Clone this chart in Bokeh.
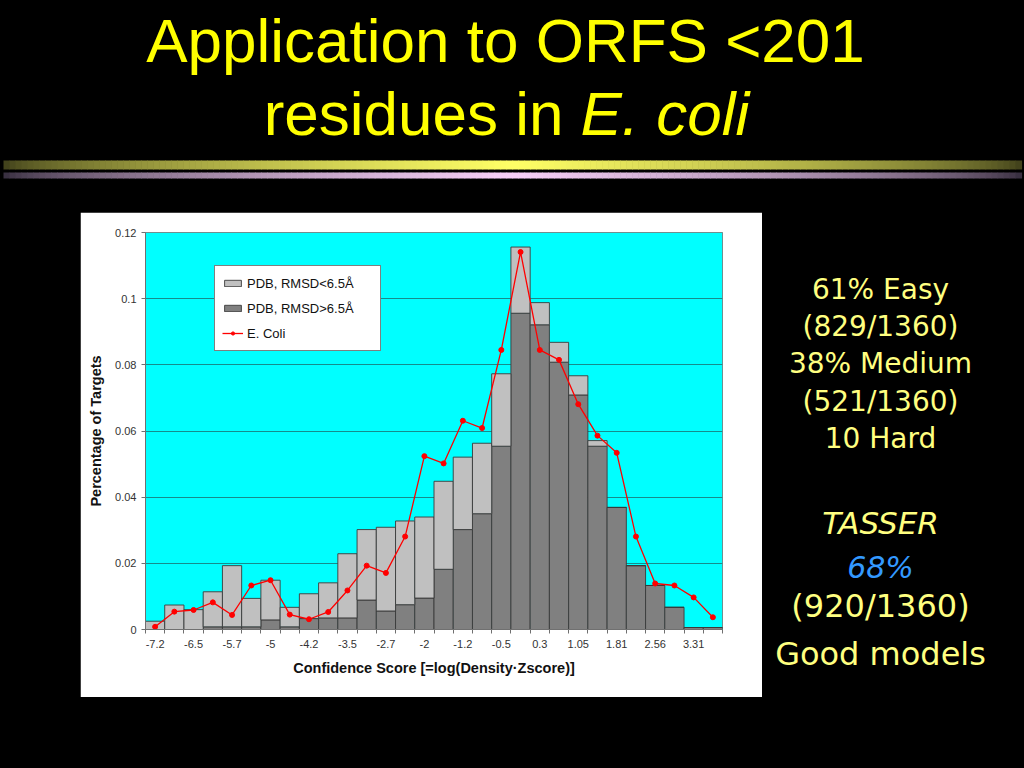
from bokeh.plotting import figure
from bokeh.layouts import column, row
from bokeh.models import (ColumnDataSource, FixedTicker, CustomJSTickFormatter,
                          Legend, LegendItem, Range1d, Label)
from bokeh.core.properties import value
from bokeh.embed import file_html
from bokeh.resources import INLINE

# ---------------- data ----------------
bin_labels = ["-7.2", "-6.85", "-6.5", "-6.1", "-5.7", "-5.35", "-5", "-4.6", "-4.2", "-3.85",
              "-3.5", "-3.1", "-2.7", "-2.35", "-2", "-1.6", "-1.2", "-0.85", "-0.5", "-0.1",
              "0.3", "0.68", "1.05", "1.43", "1.81", "2.19", "2.56", "2.94", "3.31", "3.69"]
# stacked segments: dark (RMSD>6.5A) at bottom, light (RMSD<6.5A) on top
pdb_rmsd_gt = [0.0, 0.0, 0.0, 0.0008, 0.0008, 0.0008, 0.0029, 0.0008, 0.0033, 0.0035,
               0.0035, 0.0089, 0.0056, 0.0075, 0.0095, 0.0182, 0.0302, 0.0350, 0.0554, 0.0956,
               0.0921, 0.0808, 0.0709, 0.0554, 0.0369, 0.0193, 0.0133, 0.0067, 0.0006, 0.0006]
pdb_rmsd_lt = [0.0025, 0.0074, 0.0060, 0.0106, 0.0185, 0.0086, 0.0120, 0.0059, 0.0075, 0.0106,
               0.0194, 0.0213, 0.0253, 0.0253, 0.0245, 0.0266, 0.0219, 0.0213, 0.0219, 0.0200,
               0.0067, 0.0060, 0.0058, 0.0017, 0.0, 0.0, 0.0, 0.0, 0.0, 0.0]
e_coli = [0.0008, 0.0054, 0.0059, 0.0082, 0.0044, 0.0133, 0.0149, 0.0045, 0.0031, 0.0053,
          0.0118, 0.0193, 0.0171, 0.0281, 0.0524, 0.0502, 0.0631, 0.0609, 0.0845, 0.1141,
          0.0845, 0.0815, 0.0681, 0.0586, 0.0534, 0.0281, 0.0139, 0.0133, 0.0097, 0.0037]
y_ticks = [0, 0.02, 0.04, 0.06, 0.08, 0.1, 0.12]

title_line1 = "Application to ORFS <201"
title_line2a = "residues in"
title_line2b = "E. coli"
stats_lines = ["61% Easy", "(829/1360)", "38% Medium", "(521/1360)", "10 Hard"]
tasser_lines = ["TASSER", "68%", "(920/1360)", "Good models"]

FONT = "Liberation Sans"
SIDE_FONT = "DejaVu Sans"
BLACK = "#000000"
BG = {"background-color": BLACK}
BASE_SHIFT = 0.355   # renderer puts the alphabetic baseline ~0.355em below y


def blank(w, h, xr, yr, **kw):
    f = figure(width=w, height=h, x_range=xr, y_range=yr, output_backend="svg",
               toolbar_location=None, x_axis_location=None, y_axis_location=None,
               background_fill_color=BLACK, border_fill_color=BLACK,
               outline_line_color=None, styles=BG, **kw)
    f.grid.visible = False
    return f


# ---------------- top: title + gradient rules ----------------
top = blank(1024, 212, Range1d(0, 1024), Range1d(212, 0), min_border=0)
TS = 62
top.text(x=[505], y=[62 - BASE_SHIFT * TS], text=[title_line1], text_font=value(FONT),
         text_font_size=f"{TS}px", text_color="#FFFF00", text_align="center",
         text_baseline="alphabetic")
top.text(x=[563], y=[135 - BASE_SHIFT * TS], text=[title_line2a], text_font=value(FONT),
         text_font_size=f"{TS}px", text_color="#FFFF00", text_align="right",
         text_baseline="alphabetic")
top.text(x=[580], y=[135 - BASE_SHIFT * TS], text=[title_line2b], text_font=value(FONT),
         text_font_size=f"{TS}px", text_font_style="italic", text_color="#FFFF00",
         text_align="left", text_baseline="alphabetic")


def mix(c0, c1, t):
    return "#%02x%02x%02x" % tuple(int(round(a + (b - a) * t)) for a, b in zip(c0, c1))


nseg = 170
gx0, gx1 = 3, 1021
lefts, rights, ycols, pcols = [], [], [], []
for i in range(nseg):
    a = gx0 + (gx1 - gx0) * i / nseg
    b = gx0 + (gx1 - gx0) * (i + 1) / nseg
    u = (i + 0.5) / nseg
    t = (1 - abs(2 * u - 1)) ** 0.6
    lefts.append(a)
    rights.append(b + 0.6)
    ycols.append(mix((58, 58, 24), (255, 255, 102), t))
    pcols.append(mix((48, 40, 56), (248, 208, 248), t))
top.quad(left=lefts, right=rights, top=[160] * nseg, bottom=[169] * nseg,
         fill_color=ycols, line_color=None)
top.quad(left=lefts, right=rights, top=[172] * nseg, bottom=[178] * nseg,
         fill_color=pcols, line_color=None)

# ---------------- chart ----------------
xs = [i + 0.5 for i in range(len(bin_labels))]
src = ColumnDataSource(dict(x=xs, gt=pdb_rmsd_gt, lt=pdb_rmsd_lt, ecoli=e_coli))

chart = figure(width=682, height=485, x_range=Range1d(0, len(bin_labels)),
               y_range=Range1d(0, 0.12), output_backend="svg", toolbar_location=None,
               min_border_left=65, min_border_right=40, min_border_top=20,
               min_border_bottom=68, background_fill_color="#00FFFF",
               border_fill_color="#FFFFFF", outline_line_color="#6f8f8f")

bars = chart.vbar_stack(["gt", "lt"], x="x", width=1, source=src,
                        fill_color=["#808080", "#C0C0C0"], line_color="#3a3a3a",
                        line_width=0.9)
ln = chart.line("x", "ecoli", source=src, line_color="#FF0000", line_width=1.3)
sc = chart.scatter("x", "ecoli", source=src, size=5, fill_color="#FF0000",
                   line_color="#FF0000")

chart.xgrid.visible = False
chart.ygrid.grid_line_color = "#168c8c"
chart.ygrid.grid_line_width = 1

xa = chart.xaxis[0]
xa.ticker = FixedTicker(ticks=[xs[i] for i in range(0, len(xs), 2)],
                        minor_ticks=list(range(len(xs) + 1)))
xa.major_label_overrides = {xs[i]: bin_labels[i] for i in range(0, len(xs), 2)}
xa.major_tick_line_color = None
xa.major_tick_out = 4
xa.major_tick_in = 0
xa.minor_tick_out = 4
xa.minor_tick_in = 0
xa.minor_tick_line_color = "#707070"
xa.axis_line_color = "#707070"
xa.major_label_standoff = 6
xa.axis_label = "Confidence Score [=log(Density·Zscore)]"
xa.axis_label_standoff = 9

ya = chart.yaxis[0]
ya.ticker = FixedTicker(ticks=y_ticks)
ya.formatter = CustomJSTickFormatter(code="return (Math.round(tick*100)/100).toString();")
ya.major_tick_out = 4
ya.major_tick_in = 0
ya.major_tick_line_color = "#707070"
ya.axis_line_color = "#707070"
ya.major_label_standoff = 5
ya.axis_label = "Percentage of Targets"
ya.axis_label_standoff = 8

for ax in (xa, ya):
    ax.major_label_text_font = FONT
    ax.major_label_text_font_size = "11px"
    ax.major_label_text_color = "#333333"
    ax.axis_label_text_font = FONT
    ax.axis_label_text_font_size = "14.5px"
    ax.axis_label_text_font_style = "bold"
    ax.axis_label_text_color = "#111111"

legend = Legend(items=[LegendItem(label="PDB, RMSD<6.5Å", renderers=[bars[1]]),
                       LegendItem(label="PDB, RMSD>6.5Å", renderers=[bars[0]]),
                       LegendItem(label="E. Coli", renderers=[ln, sc])],
                location=(69, 278))
legend.label_text_font = FONT
legend.label_text_font_size = "13px"
legend.label_text_color = "#111111"
legend.border_line_color = "#000000"
legend.border_line_width = 1
legend.background_fill_color = "#FFFFFF"
legend.background_fill_alpha = 1
legend.padding = 7
legend.spacing = 5
legend.margin = 0
legend.glyph_width = 21
legend.glyph_height = 8
legend.label_height = 20
legend.label_standoff = 4
legend.label_width = 126
chart.add_layout(legend)

# ---------------- side figures ----------------
left = blank(80, 485, Range1d(0, 80), Range1d(629, 232),
             min_border_top=20, min_border_bottom=68, min_border_left=0, min_border_right=0)
bottom_left = blank(762, 71, Range1d(0, 762), Range1d(768, 697), min_border=0)
right = blank(262, 556, Range1d(762, 1024), Range1d(768, 232),
              min_border_top=20, min_border_bottom=0, min_border_left=0, min_border_right=0)

cx = 880


def side_label(txt, baseline, size, color="#FFFF80", style="normal"):
    right.add_layout(Label(x=cx, y=baseline - BASE_SHIFT * size, text=txt,
                           text_font=SIDE_FONT, text_font_size=f"{size}px",
                           text_font_style=style, text_color=color,
                           text_align="center", text_baseline="alphabetic"))


for txt, yy in zip(stats_lines, [299, 336, 373, 411, 448]):
    side_label(txt, yy, 28)
side_label(tasser_lines[0], 534, 31, style="italic")
side_label(tasser_lines[1], 578, 30, color="#3399FF", style="italic")
side_label(tasser_lines[2], 617, 32)
side_label(tasser_lines[3], 665, 32)

page = column(top,
              row(column(row(left, chart, styles=BG), bottom_left, styles=BG), right, styles=BG),
              styles=BG)

open("out.html", "w").write(file_html(page, INLINE))
